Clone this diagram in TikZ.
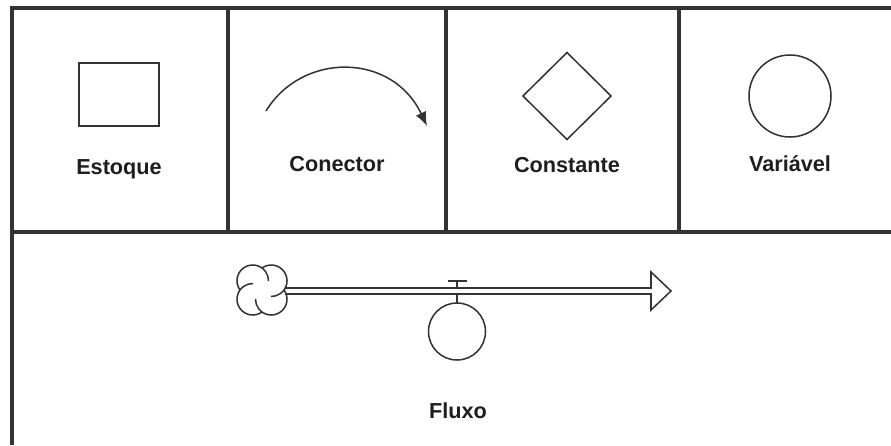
\documentclass[tikz,border=0pt]{standalone}
\usepackage{fontspec}
\setmainfont{Liberation Sans}
\usepackage{tikz}
\usetikzlibrary{arrows.meta,shapes.geometric}
\definecolor{traco}{HTML}{333333}
\definecolor{texto}{HTML}{1E1E1E}

\begin{document}
\begin{tikzpicture}[
    x=0.03cm, y=-0.03cm,
    every node/.style={font=\fontsize{18.5}{21}\selectfont\bfseries, text=texto},
    moldura/.style={line width=2.8pt, color=traco},                 % grade da tabela
    simb/.style={line width=1.3pt, color=traco},                    % tracos dos simbolos
    forma/.style={simb, draw, inner sep=0pt, outer sep=0pt},
    rotulo/.style={anchor=base, inner sep=0pt},
    liga/.style={simb, -{Latex[length=0.42cm, width=0.34cm]}}
  ]
  \useasboundingbox (0,0) rectangle (891,445);

  % ============ grade =====================================================
  \draw[moldura] (12,445) -- (12,8) -- (891,8);
  \draw[moldura] (12,232) -- (891,232);
  \foreach \x in {228,446,679}
    \draw[moldura] (\x,8) -- (\x,232);

  % ============ linha de cima : os quatro simbolos ========================
  \node[forma, rectangle, minimum width=2.4cm, minimum height=1.89cm] (estoque) at (119,94.5) {};
  \node[rotulo] (lbl-estoque) at (119,174) {Estoque};

  \coordinate (con-a) at (266,111);
  \coordinate (con-b) at (427,126);
  \draw[liga] (con-a) .. controls (302,52) and (392,52) .. (con-b);
  \node[rotulo] (lbl-conector) at (337,171) {Conector};

  \node[forma, diamond, minimum width=2.64cm, minimum height=2.61cm] (constante) at (567,96) {};
  \node[rotulo] (lbl-constante) at (567,172) {Constante};

  \node[forma, circle, minimum size=2.46cm] (variavel) at (790,96) {};
  \node[rotulo] (lbl-variavel) at (790,171) {Variável};

  % ============ linha de baixo : o fluxo ==================================
  \coordinate (fonte) at (262,290);                               % nuvem
  \foreach \ang/\dx/\dy in {144/-9.25/-9.25, 234/9.25/-9.25, 324/9.25/9.25, 54/-9.25/9.25}
    \draw[simb] (fonte) ++(\dx,\dy) ++(\ang:15.75) arc[start angle=\ang, delta angle=217, radius=15.75];

  % cano duplo com a ponta vazada
  \coordinate (cano-ini) at (285,291);
  \draw[simb, line join=miter] (cano-ini) ++(0,-3) -- ++(366,0) -- ++(0,-16) -- ++(20,19)
    -- ++(-20,19) -- ++(0,-16) -- ++(-366,0);

  % valvula
  \node[forma, circle, minimum size=1.71cm] (valvula) at (457,331.5) {};
  \draw[simb] (448,281) -- (467,281);
  \draw[simb] (457,281) -- (457,288);
  \draw[simb] (457,294) -- (valvula.north);

  \node[rotulo] (lbl-fluxo) at (458,418) {Fluxo};

\end{tikzpicture}
\end{document}
